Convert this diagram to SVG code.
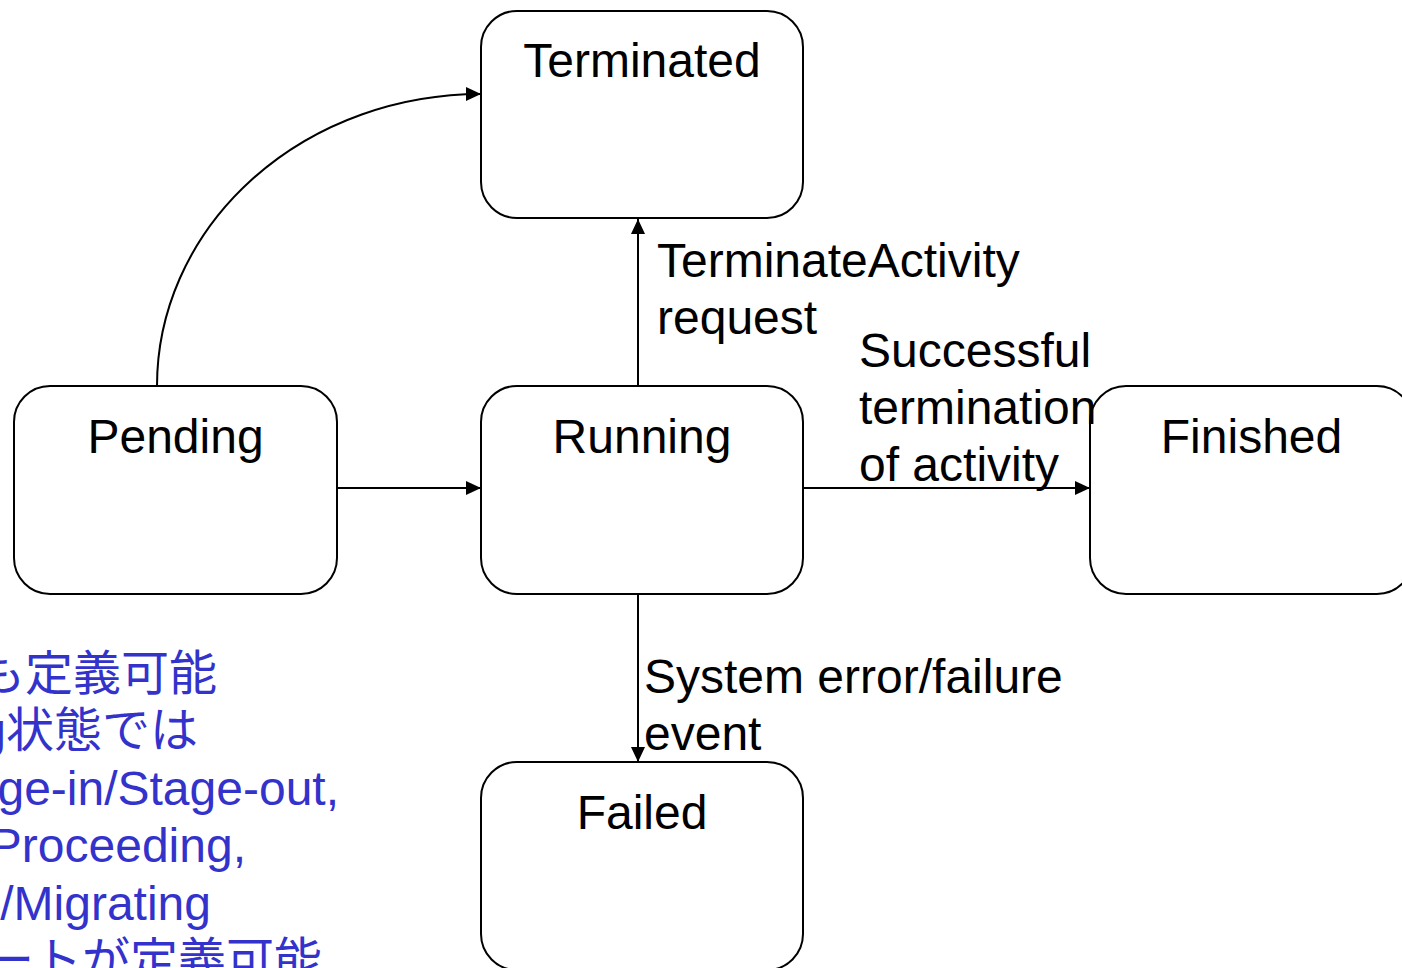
<svg xmlns="http://www.w3.org/2000/svg" width="1402" height="968" viewBox="0 0 1402 968">
<style>
.box{fill:#fff;stroke:#000;stroke-width:2}
.t{font-family:"Liberation Sans",Arial,"Noto Sans CJK JP",sans-serif;font-size:48px;fill:#000}
.c{text-anchor:middle}
.blue{fill:#3333cc;text-anchor:end}
.ln{fill:none;stroke:#000;stroke-width:2}
</style>
<defs>
<marker id="ah" viewBox="0 0 15 14" refX="15" refY="7" markerWidth="15" markerHeight="14" markerUnits="userSpaceOnUse" orient="auto">
<path d="M0,0 L15,7 L0,14 Z" fill="#000"/>
</marker>
</defs>
<rect width="1402" height="968" fill="#fff"/>
<g id="connectors">
<path class="ln" d="M157,386 A324,292 0 0 1 481,94" marker-end="url(#ah)"/>
<line class="ln" x1="638" y1="386" x2="638" y2="219" marker-end="url(#ah)"/>
<line class="ln" x1="337" y1="488" x2="481" y2="488" marker-end="url(#ah)"/>
<line class="ln" x1="803" y1="488" x2="1090" y2="488" marker-end="url(#ah)"/>
<line class="ln" x1="638" y1="594" x2="638" y2="762" marker-end="url(#ah)"/>
</g>
<g id="terminated"><rect class="box" x="481" y="11" width="322" height="207" rx="36"/><text class="t c" x="642" y="77">Terminated</text></g>
<g id="pending"><rect class="box" x="14" y="386" width="323" height="208" rx="36"/><text class="t c" x="175.5" y="453">Pending</text></g>
<g id="running"><rect class="box" x="481" y="386" width="322" height="208" rx="36"/><text class="t c" x="642" y="453">Running</text></g>
<g id="finished"><rect class="box" x="1090" y="386" width="323" height="208" rx="36"/><text class="t c" x="1251.5" y="453">Finished</text></g>
<g id="failed"><rect class="box" x="481" y="762" width="322" height="208" rx="36"/><text class="t c" x="642" y="829">Failed</text></g>
<g id="labels">
<text class="t" x="657" y="277">TerminateActivity</text>
<text class="t" x="657" y="334">request</text>
<text class="t" x="859" y="367">Successful</text>
<text class="t" x="859" y="424">termination</text>
<text class="t" x="859" y="481">of activity</text>
<text class="t" x="644" y="693">System error/failure</text>
<text class="t" x="644" y="750">event</text>
</g>
<g id="note">
<text class="t blue" x="217" y="690">も定義可能</text>
<text class="t blue" x="198" y="747">g状態では</text>
<text class="t blue" x="339" y="805">ge-in/Stage-out,</text>
<text class="t blue" x="246" y="862">Proceeding,</text>
<text class="t blue" x="211" y="920">/Migrating</text>
<text class="t blue" x="322" y="977">ートが定義可能</text>
</g>
</svg>
